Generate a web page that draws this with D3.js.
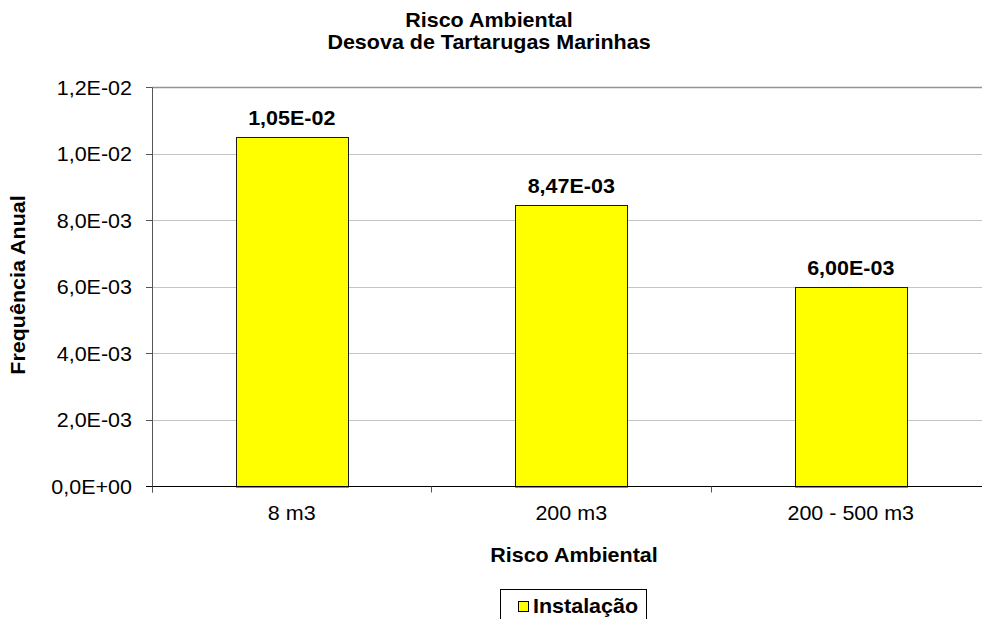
<!DOCTYPE html>
<html>
<head>
<meta charset="utf-8">
<script src="https://cdn.jsdelivr.net/npm/d3@7"></script>
<style>
  html, body { margin: 0; padding: 0; background: #ffffff; }
  svg { display: block; }
  text { font-family: Arial, "Liberation Sans", sans-serif; fill: #000; }
</style>
</head>
<body>
<svg id="chart" width="982" height="619"></svg>
<script>
const titleLines = ["Risco Ambiental", "Desova de Tartarugas Marinhas"];
const categories = ["8 m3", "200 m3", "200 - 500 m3"];
const values = [1.05e-2, 8.47e-3, 6.00e-3];
const valueLabels = ["1,05E-02", "8,47E-03", "6,00E-03"];
const yTicks = [0, 0.002, 0.004, 0.006, 0.008, 0.010, 0.012];
const yTickLabels = ["0,0E+00", "2,0E-03", "4,0E-03", "6,0E-03", "8,0E-03", "1,0E-02", "1,2E-02"];
const xTitle = "Risco Ambiental";
const yTitle = "Frequência Anual";
const seriesName = "Instalação";

const svg = d3.select("#chart");
const SX = 1.075;
const FS = 20;

const plot = { left: 152, right: 990.5, top: 87.5, bottom: 486.5 };

const y = d3.scaleLinear().domain([0, 0.012]).range([plot.bottom, plot.top]);
const x = d3.scaleBand().domain(categories).range([plot.left, plot.right])
  .paddingInner(0.6).paddingOuter(0.3);

function txt(g, px, py, s, anchor, bold, rot) {
  return g.append("text")
    .attr("transform", `translate(${px},${py})` + (rot ? ` rotate(${rot})` : "") + ` scale(${SX},1)`)
    .attr("text-anchor", anchor)
    .attr("font-size", FS)
    .attr("font-weight", bold ? "bold" : "normal")
    .text(s);
}
const crisp = v => Math.round(v - 0.5) + 0.5;

// gridlines
svg.append("g").selectAll("line").data(yTicks.filter(d => d > 0)).join("line")
  .attr("x1", plot.left).attr("x2", plot.right)
  .attr("y1", d => crisp(y(d))).attr("y2", d => crisp(y(d)))
  .attr("stroke", d => d === 0.012 ? "#939393" : "#c4c4c4")
  .attr("stroke-width", d => d === 0.012 ? 1.3 : 1);

// bars
svg.append("g").selectAll("rect").data(values).join("rect")
  .attr("x", (d, i) => Math.round(x(categories[i])) + 0.5)
  .attr("width", Math.round(x.bandwidth()))
  .attr("y", d => Math.round(y(d)) + 0.5)
  .attr("height", d => Math.round(y(0)) - Math.round(y(d)) - 0.5)
  .attr("fill", "#ffff00")
  .attr("stroke", "#1a1a1a")
  .attr("stroke-width", 1);

// y axis line and ticks
const ax = svg.append("g");
ax.append("line").attr("x1", crisp(plot.left)).attr("x2", crisp(plot.left))
  .attr("y1", plot.top).attr("y2", plot.bottom + 6).attr("stroke", "#555").attr("stroke-width", 1);
ax.selectAll("line.yt").data(yTicks).join("line").attr("class", "yt")
  .attr("x1", plot.left - 6).attr("x2", plot.left)
  .attr("y1", d => crisp(y(d))).attr("y2", d => crisp(y(d)))
  .attr("stroke", "#555");
yTicks.forEach((d, i) => txt(svg, 132, y(d) + 7, yTickLabels[i], "end", false));

// x axis line and ticks
ax.append("line").attr("x1", plot.left - 6).attr("x2", plot.right)
  .attr("y1", crisp(y(0))).attr("y2", crisp(y(0))).attr("stroke", "#000").attr("stroke-width", 1);
const bounds = d3.range(categories.length + 1).map(i => plot.left + i * x.step());
ax.selectAll("line.xt").data(bounds).join("line").attr("class", "xt")
  .attr("x1", d => crisp(d)).attr("x2", d => crisp(d))
  .attr("y1", y(0)).attr("y2", y(0) + 6).attr("stroke", "#555");
categories.forEach(c => txt(svg, x(c) + x.bandwidth() / 2, 520, c, "middle", false));

// value labels
values.forEach((v, i) => txt(svg, x(categories[i]) + x.bandwidth() / 2, y(v) - 12, valueLabels[i], "middle", true));

// titles
txt(svg, 489, 27, titleLines[0], "middle", true);
txt(svg, 489, 49, titleLines[1], "middle", true);
txt(svg, 574, 562, xTitle, "middle", true);
txt(svg, 25, 285, yTitle, "middle", true, -90);

// legend
const lg = svg.append("g");
lg.append("rect").attr("x", 500.5).attr("y", 589.5).attr("width", 146).attr("height", 40)
  .attr("fill", "#fff").attr("stroke", "#000").attr("stroke-width", 1);
lg.append("rect").attr("x", 518.5).attr("y", 601.5).attr("width", 10).attr("height", 10)
  .attr("fill", "#ffff00").attr("stroke", "#000").attr("stroke-width", 1);
txt(lg, 533, 613, seriesName, "start", true);
</script>
</body>
</html>
